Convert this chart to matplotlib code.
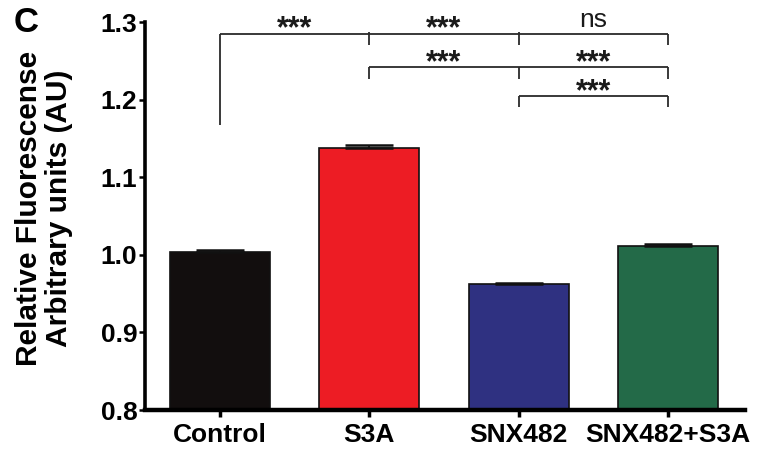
import matplotlib
matplotlib.use("Agg")
import matplotlib.pyplot as plt
import numpy as np

categories = ["Control", "S3A", "SNX482", "SNX482+S3A"]
means = [1.004, 1.138, 0.962, 1.011]
errors = [0.002, 0.0035, 0.002, 0.0025]
colors = ["#120e0e", "#ed1c24", "#2f3181", "#236a48"]
yticks = [0.8, 0.9, 1.0, 1.1, 1.2, 1.3]

# significance comparisons: (start index, end index, label)
comparisons = [
    (0, 1, "***"), (1, 2, "***"), (2, 3, "ns"),
    (1, 2, "***"), (2, 3, "***"),
    (2, 3, "***"),
]

plt.rcParams['font.family'] = ['Liberation Sans', 'DejaVu Sans']

fig = plt.figure(figsize=(7.57, 4.5), dpi=100)
W, H = 757, 450
ax = fig.add_axes([145 / W, 1 - 410 / H, (745 - 145) / W, (410 - 22) / H])

x = np.arange(len(categories))
ax.bar(x, means, width=0.67, color=colors, edgecolor="#111111", linewidth=1.2, zorder=2)
ax.errorbar(x, means, yerr=[np.zeros(len(errors)), errors], fmt='none', ecolor="#111111",
            elinewidth=1.2, capsize=17, capthick=1.8, zorder=3)

ax.set_xlim(-0.502, 3.516)
ax.set_ylim(0.8, 1.3)
ax.set_yticks(yticks)
ax.set_yticklabels([f"{v:.1f}" for v in yticks], fontsize=19, fontweight='bold')
ax.set_xticks(x)
ax.set_xticklabels(categories, fontsize=19, fontweight='bold')
ax.tick_params(axis='y', direction='out', length=4, width=1.8, pad=1.5)
ax.tick_params(axis='x', direction='out', length=5, width=2.5, pad=4)

for s in ['top', 'right']:
    ax.spines[s].set_visible(False)
ax.spines['left'].set_linewidth(2.6)
ax.spines['bottom'].set_linewidth(3.2)

# brackets
lc = "#2a2a2a"
lw = 1.3
def hline(x0, x1, y):
    ax.plot([x0, x1], [y, y], color=lc, lw=lw, clip_on=False, solid_capstyle='butt')
def vline(xx, y0, y1):
    ax.plot([xx, xx], [y0, y1], color=lc, lw=lw, clip_on=False, solid_capstyle='butt')

# row 1
r1 = 1.285
hline(0, 3, r1)
vline(0, 1.167, r1)
vline(1, 1.270, r1 + 0.002)
vline(2, 1.270, r1 + 0.002)
vline(3, 1.270, r1)
# row 2
r2 = 1.242
hline(1, 3, r2)
for xx in (1, 2, 3):
    vline(xx, 1.2265, r2)
# row 3
r3 = 1.205
hline(2, 3, r3)
for xx in (2, 3):
    vline(xx, 1.190, r3)

rows = [r1, r1, r1, r2, r2, r3]
for (a, b, lab), ry in zip(comparisons, rows):
    xm = (a + b) / 2
    if lab == "ns":
        ax.text(xm, ry + 0.0086, lab, ha='center', va='baseline', fontsize=19,
                color="#1a1a1a", clip_on=False)
    else:
        ax.text(xm, ry - 0.0052, lab, ha='center', va='baseline', fontsize=22,
                fontweight='bold', color="#1a1a1a", clip_on=False)

fig.text(44 / W, 1 - 208 / H, "Relative Fluorescense\nArbitrary units (AU)", rotation=90,
         ha='center', va='center', multialignment='center', fontsize=21.5,
         fontweight='bold', linespacing=1.05)
fig.text(26 / W, 1 - 23 / H, "C", ha='center', va='center', fontsize=25, fontweight='bold')

fig.savefig("out.png", dpi=100)
